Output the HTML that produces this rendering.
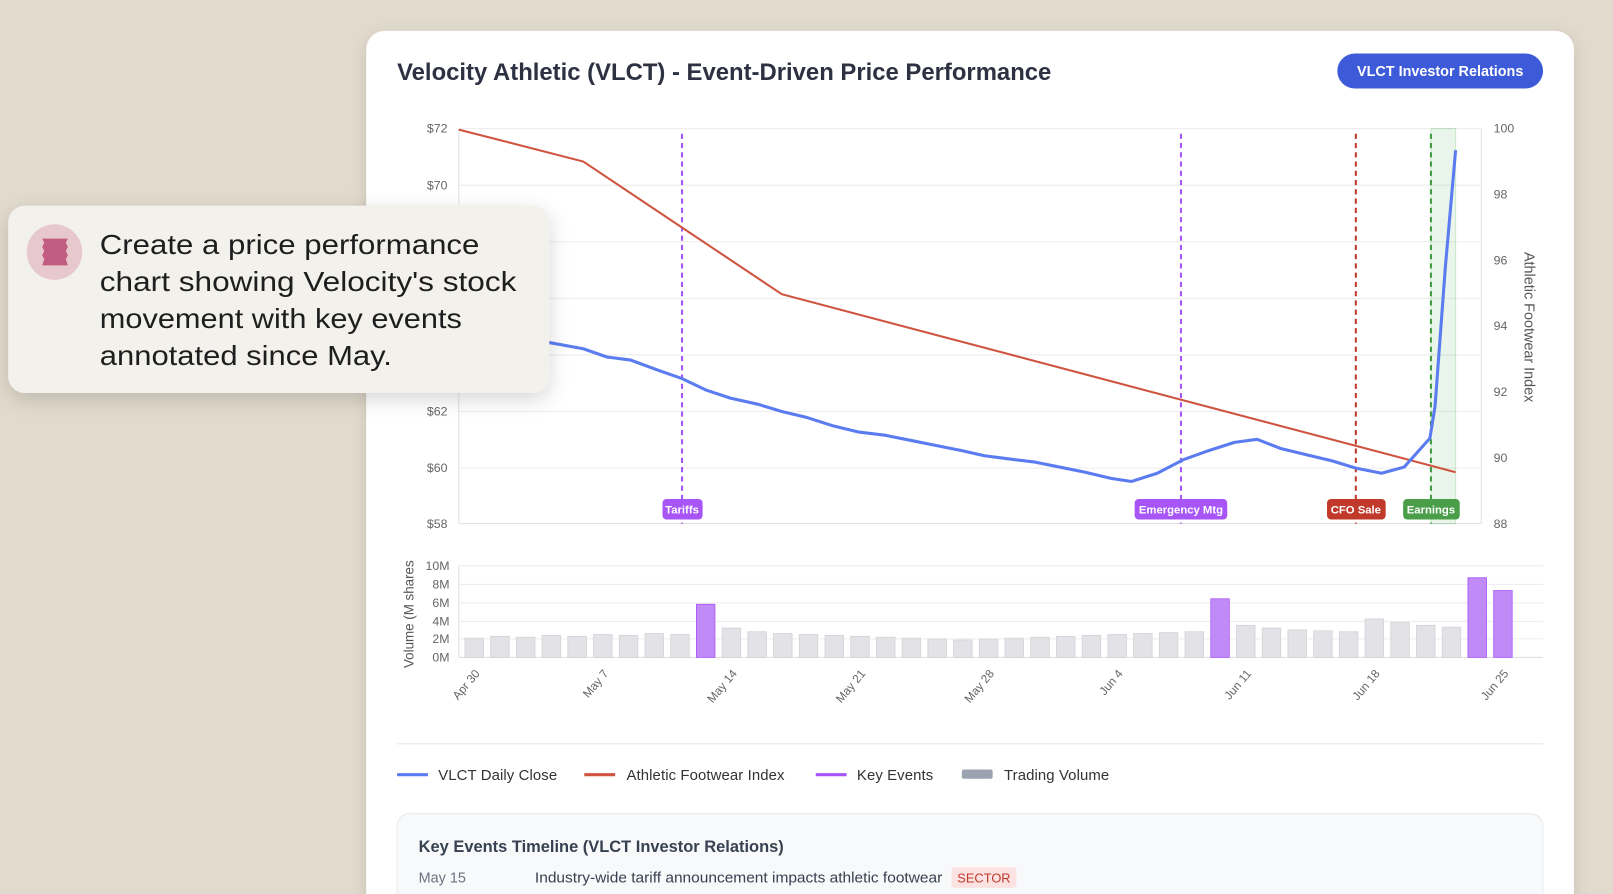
<!DOCTYPE html>
<html><head><meta charset="utf-8"><style>
html,body{margin:0;padding:0;width:1613px;height:894px;overflow:hidden;background:#e2dbcd;}
svg{display:block}
text{font-family:"Liberation Sans",sans-serif}
</style></head><body>
<svg width="1613" height="894" viewBox="0 0 1568 869" preserveAspectRatio="none" xmlns="http://www.w3.org/2000/svg">
<defs>
<filter id="sh" x="-10%" y="-10%" width="120%" height="130%"><feDropShadow dx="0" dy="4" stdDeviation="8" flood-color="#000" flood-opacity="0.12"/></filter>
<filter id="sh2" x="-10%" y="-10%" width="120%" height="140%"><feDropShadow dx="0" dy="6" stdDeviation="10" flood-color="#000" flood-opacity="0.16"/></filter>
</defs>
<rect x="0" y="0" width="1568" height="869" fill="#e2dbcd"/>
<rect x="356" y="30" width="1174" height="880" rx="18" fill="#fff" filter="url(#sh)"/>
<text x="386" y="78" font-size="23.5" font-weight="bold" fill="#2d3142" textLength="636" lengthAdjust="spacingAndGlyphs">Velocity Athletic (VLCT) - Event-Driven Price Performance</text>
<rect x="1300" y="52" width="200" height="34" rx="17" fill="#3d5bd9"/>
<text x="1400" y="74" font-size="14" font-weight="bold" fill="#fff" text-anchor="middle">VLCT Investor Relations</text>

<g stroke="#ececec" stroke-width="1">
<line x1="446" y1="125" x2="1440" y2="125"/><line x1="446" y1="180" x2="1440" y2="180"/>
<line x1="446" y1="235" x2="1440" y2="235"/><line x1="446" y1="290" x2="1440" y2="290"/>
<line x1="446" y1="345" x2="1440" y2="345"/><line x1="446" y1="400" x2="1440" y2="400"/>
<line x1="446" y1="455" x2="1440" y2="455"/>
</g>
<line x1="446" y1="509" x2="1440" y2="509" stroke="#ddd"/>
<line x1="446" y1="125" x2="446" y2="509" stroke="#e2e2e2"/>
<line x1="1440" y1="125" x2="1440" y2="509" stroke="#e2e2e2"/>
<g font-size="12" fill="#666" text-anchor="end">
<text x="435" y="129">$72</text><text x="435" y="184">$70</text><text x="435" y="239">$68</text>
<text x="435" y="294">$66</text><text x="435" y="349">$64</text><text x="435" y="404">$62</text>
<text x="435" y="459">$60</text><text x="435" y="513">$58</text>
</g>
<g font-size="12" fill="#666">
<text x="1452" y="129">100</text><text x="1452" y="193">98</text><text x="1452" y="257">96</text>
<text x="1452" y="321">94</text><text x="1452" y="385">92</text><text x="1452" y="449">90</text>
<text x="1452" y="513">88</text>
</g>
<text transform="translate(1482,318) rotate(90)" font-size="14" fill="#555" text-anchor="middle">Athletic Footwear Index</text>

<rect x="1391" y="125" width="24" height="384" fill="#4caf50" fill-opacity="0.12" stroke="#4caf50" stroke-opacity="0.25"/>
<g stroke-width="2" stroke-dasharray="5,4">
<line x1="663" y1="130" x2="663" y2="509" stroke="#a855f7"/>
<line x1="1148" y1="130" x2="1148" y2="509" stroke="#a855f7"/>
<line x1="1318" y1="130" x2="1318" y2="509" stroke="#c0392b"/>
<line x1="1391" y1="130" x2="1391" y2="509" stroke="#3d9a3d"/>
</g>
<polyline fill="none" stroke="#d0533f" stroke-width="2" points="446,126 567,157 760,286 1415,459"/>
<polyline fill="none" stroke="#5b7cf0" stroke-width="3" stroke-linejoin="round" points="446,318 470,322 500,327 534,333 567,339 590,347 613,350 640,360 663,368 686,379 710,387 737,393 760,400 785,406 810,414 835,420 860,423 885,428 910,433 935,438 957,443 980,446 1005,449 1030,454 1055,459 1080,465 1100,468 1125,460 1150,447 1175,438 1200,430 1222,427 1245,436 1270,442 1295,448 1318,455 1343,460 1365,454 1390,426 1395,395 1405,260 1415,146"/>
<g font-size="11" font-weight="bold" fill="#fff" text-anchor="middle">
<rect x="644" y="485" width="39" height="20" rx="4" fill="#a855f7"/><text x="663" y="499">Tariffs</text>
<rect x="1103" y="485" width="90" height="20" rx="4" fill="#a855f7"/><text x="1148" y="499">Emergency Mtg</text>
<rect x="1290" y="485" width="57" height="20" rx="4" fill="#c0392b"/><text x="1318" y="499">CFO Sale</text>
<rect x="1364" y="485" width="55" height="20" rx="4" fill="#4a9e4a"/><text x="1391" y="499">Earnings</text>
</g>

<g stroke="#ececec">
<line x1="446" y1="550" x2="1500" y2="550"/><line x1="446" y1="568" x2="1500" y2="568"/>
<line x1="446" y1="586" x2="1500" y2="586"/><line x1="446" y1="604" x2="1500" y2="604"/>
<line x1="446" y1="621" x2="1500" y2="621"/>
</g>
<line x1="446" y1="639" x2="1500" y2="639" stroke="#ddd"/>
<line x1="446" y1="550" x2="446" y2="639" stroke="#e2e2e2"/>
<g font-size="12" fill="#666" text-anchor="end">
<text x="437" y="554">10M</text><text x="437" y="572">8M</text><text x="437" y="590">6M</text>
<text x="437" y="608">4M</text><text x="437" y="625">2M</text><text x="437" y="643">0M</text>
</g>
<text transform="translate(402,597) rotate(-90)" font-size="13" fill="#555" text-anchor="middle">Volume (M shares</text>
<g id="bars"></g>
<g font-size="11.5" fill="#666" text-anchor="end" id="xl"></g>

<line x1="386" y1="723" x2="1500" y2="723" stroke="#e8e8ea"/>
<g font-size="14.5" fill="#333" letter-spacing="0.1">
<line x1="386" y1="753" x2="416" y2="753" stroke="#5b7cf0" stroke-width="3"/><text x="426" y="758">VLCT Daily Close</text>
<line x1="568" y1="753" x2="598" y2="753" stroke="#d0533f" stroke-width="3"/><text x="609" y="758">Athletic Footwear Index</text>
<line x1="793" y1="753" x2="823" y2="753" stroke="#a855f7" stroke-width="3"/><text x="833" y="758">Key Events</text>
<rect x="935" y="748" width="30" height="9" rx="2" fill="#9ca3b0"/><text x="976" y="758">Trading Volume</text>
</g>
<rect x="386" y="791" width="1114" height="120" rx="12" fill="#f8f9fa" stroke="#e8e9ec"/>
<text x="407" y="828" font-size="16" font-weight="bold" fill="#374151">Key Events Timeline (VLCT Investor Relations)</text>
<text x="407" y="858" font-size="14" fill="#6b7280">May 15</text>
<text x="520" y="858" font-size="14" fill="#374151" textLength="396" lengthAdjust="spacingAndGlyphs">Industry-wide tariff announcement impacts athletic footwear</text>
<rect x="925" y="843" width="63" height="20" rx="3" fill="#fde2e2"/>
<text x="956.5" y="858" font-size="12.5" fill="#c0392b" text-anchor="middle">SECTOR</text>

<rect x="8" y="200" width="526" height="182" rx="16" fill="#f3f1ec" filter="url(#sh2)"/>
<circle cx="53" cy="245" r="27" fill="#e8c8cf"/>
<path d="M41,232 L66,232 L64,236 L66,240 L64,244 L66,248 L64,252 L66,258 L41,258 L43,252 L41,248 L43,244 L41,240 L43,236 Z" fill="#c25d82"/>
<g font-size="27" fill="#1e1e1e">
<text x="97" y="247" textLength="369" lengthAdjust="spacingAndGlyphs">Create a price performance</text>
<text x="97" y="283" textLength="405" lengthAdjust="spacingAndGlyphs">chart showing Velocity's stock</text>
<text x="97" y="319" textLength="352" lengthAdjust="spacingAndGlyphs">movement with key events</text>
<text x="97" y="355" textLength="284" lengthAdjust="spacingAndGlyphs">annotated since May.</text>
</g>
</svg>
<script>
const v=[2.1,2.3,2.2,2.4,2.3,2.5,2.4,2.6,2.5,5.8,3.2,2.8,2.6,2.5,2.4,2.3,2.2,2.1,2.0,1.9,2.0,2.1,2.2,2.3,2.4,2.5,2.6,2.7,2.8,6.4,3.5,3.2,3.0,2.9,2.8,4.2,3.8,3.5,3.3,8.7,7.3];
const purple=new Set([9,29,39,40]);
const ns="http://www.w3.org/2000/svg";
const g=document.getElementById('bars');
v.forEach((d,i)=>{const cx=461+i*25,h=d*8.9;const r=document.createElementNS(ns,'rect');
r.setAttribute('x',cx-9);r.setAttribute('y',639-h);r.setAttribute('width',18);r.setAttribute('height',h);
r.setAttribute('fill',purple.has(i)?'#c08af7':'#e3e3e7');r.setAttribute('stroke',purple.has(i)?'#a855f7':'#d3d3d8');r.setAttribute('stroke-width','0.8');g.appendChild(r);});
const L=['Apr 30','May 7','May 14','May 21','May 28','Jun 4','Jun 11','Jun 18','Jun 25'];
const xl=document.getElementById('xl');
L.forEach((t,k)=>{const x=461+k*125;const e=document.createElementNS(ns,'text');
e.setAttribute('transform','translate('+(x+6)+',655) rotate(-50)');e.textContent=t;xl.appendChild(e);});
</script>
</body></html>
